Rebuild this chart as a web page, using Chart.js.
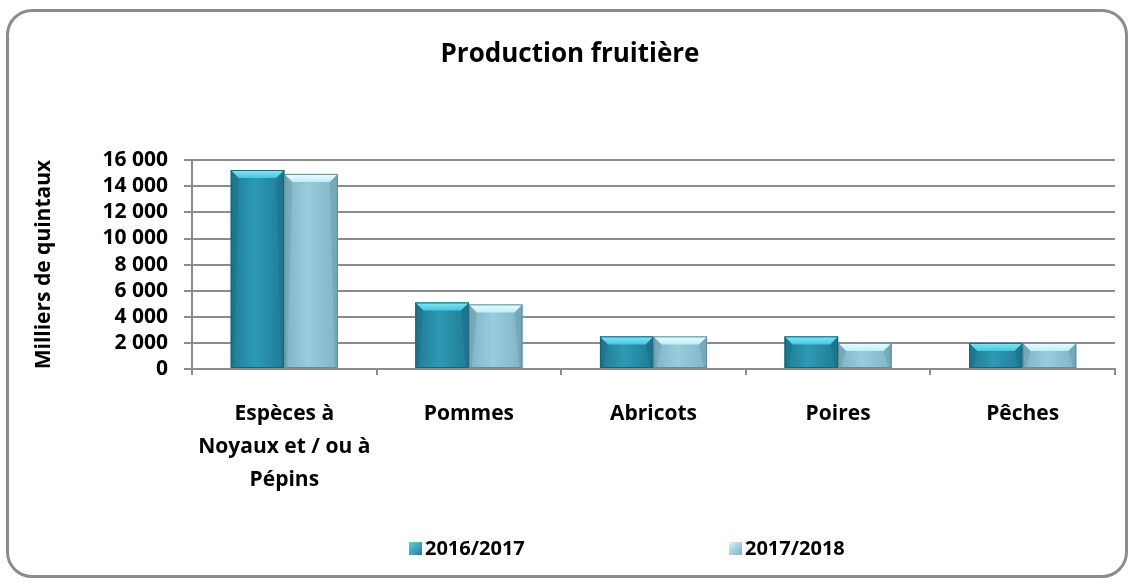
<!DOCTYPE html>
<html>
<head>
<meta charset="utf-8">
<script src="https://cdn.jsdelivr.net/npm/chart.js@4.4.1/dist/chart.umd.min.js"></script>
<style>
  body { margin: 0; background: #fff; }
  #frame {
    position: absolute; left: 6px; top: 9px; width: 1116px; height: 563px;
    border: 3px solid #8c8c8c; border-radius: 26px;
  }
  #wrap { position: absolute; left: 0; top: 0; width: 1135px; height: 583px; }
  .leg {
    position: absolute; top: 535px; font: bold 20px "Open Sans", sans-serif; color: #000;
    line-height: 26px; white-space: nowrap;
  }
  .leg i {
    display: inline-block; width: 13px; height: 13px; margin-right: 3px; vertical-align: 0px;
  }
</style>
</head>
<body>
<div id="frame"></div>
<div id="wrap"><canvas id="barChart" width="1135" height="583"></canvas></div>
<div class="leg" style="left:409px"><i style="background:linear-gradient(135deg,#5fcde4,#1f7f98)"></i>2016/2017</div>
<div class="leg" style="left:729px"><i style="background:linear-gradient(135deg,#d4f4fa,#7bb0c2)"></i>2017/2018</div>
<script>
// données
var categories = [["Espèces à", "Noyaux et / ou à", "Pépins"], "Pommes", "Abricots", "Poires", "Pêches"];
var serie2016 = [15250, 5100, 2500, 2500, 2000];
var serie2017 = [14950, 4950, 2500, 2000, 2000];
var seriesNames = ["2016/2017", "2017/2018"];
var yTicks = [0, 2000, 4000, 6000, 8000, 10000, 12000, 14000, 16000];

// couleurs du relief
var styles = [
  { side: "#207a94", mid: "#2d9ab4", topA: "#86e8f8", topB: "#45c6de", edge: "#1a6276" },
  { side: "#80b4c5", mid: "#98cddc", topA: "#eefdff", topB: "#bdeef6", edge: "#5f8d9c" },
];

function fmt(v) {
  return String(v).replace(/\B(?=(\d{3})+(?!\d))/g, " ");
}

var bevelPlugin = {
  id: "bevel",
  afterDatasetsDraw: function (chart) {
    var ctx = chart.ctx;
    chart.data.datasets.forEach(function (ds, i) {
      var st = styles[i];
      chart.getDatasetMeta(i).data.forEach(function (bar) {
        var w = bar.width, l = bar.x - w / 2, r = bar.x + w / 2, t = bar.y, b = bar.base;
        var e = Math.min(8, (b - t) / 2);
        ctx.save();
        var g = ctx.createLinearGradient(l, 0, r, 0);
        g.addColorStop(0, st.side);
        g.addColorStop(0.45, st.mid);
        g.addColorStop(1, st.side);
        ctx.fillStyle = g;
        ctx.fillRect(l, t, w, b - t);
        // face du dessus
        var gt = ctx.createLinearGradient(0, t, 0, t + e);
        gt.addColorStop(0, st.topA);
        gt.addColorStop(1, st.topB);
        ctx.fillStyle = gt;
        ctx.beginPath();
        ctx.moveTo(l, t);
        ctx.lineTo(r, t);
        ctx.lineTo(r - e, t + e);
        ctx.lineTo(l + e, t + e);
        ctx.closePath();
        ctx.fill();
        // côtés
        ctx.fillStyle = "rgba(0,40,60,0.10)";
        ctx.beginPath();
        ctx.moveTo(l, t);
        ctx.lineTo(l + e, t + e);
        ctx.lineTo(l + 3, b);
        ctx.lineTo(l, b);
        ctx.closePath();
        ctx.fill();
        ctx.beginPath();
        ctx.moveTo(r, t);
        ctx.lineTo(r - e, t + e);
        ctx.lineTo(r - 3, b);
        ctx.lineTo(r, b);
        ctx.closePath();
        ctx.fill();
        ctx.strokeStyle = st.edge;
        ctx.lineWidth = 1;
        ctx.strokeRect(l + 0.5, t + 0.5, w - 1, b - t - 1);
        ctx.restore();
      });
    });
  },
};

var font = "'Open Sans', sans-serif";
var barCtx = document.getElementById("barChart").getContext("2d");
var barChart = new Chart(barCtx, {
  type: "bar",
  data: {
    labels: categories,
    datasets: [
      { label: seriesNames[0], data: serie2016, backgroundColor: styles[0].mid },
      { label: seriesNames[1], data: serie2017, backgroundColor: styles[1].mid },
    ],
  },
  plugins: [bevelPlugin],
  options: {
    responsive: false,
    animation: false,
    layout: { padding: { left: 25, right: 20, top: 10, bottom: 62 } },
    datasets: { bar: { categoryPercentage: 0.58, barPercentage: 1.0 } },
    plugins: {
      legend: { display: false },
      tooltip: { enabled: false },
      title: {
        display: true,
        text: "Production fruitière",
        color: "#000",
        font: { family: font, size: 26, weight: "bold", lineHeight: 1.2 },
        padding: { top: 29, bottom: 90 },
      },
    },
    scales: {
      x: {
        afterFit: function (axis) { axis.height = 152; },
        grid: { drawOnChartArea: false, tickLength: 6, color: "#8c8c8c", lineWidth: 2 },
        border: { color: "#8c8c8c", width: 2 },
        ticks: {
          color: "#000",
          padding: 22,
          maxRotation: 0,
          autoSkip: false,
          font: { family: font, size: 21, weight: "bold", lineHeight: 1.58 },
        },
      },
      y: {
        min: 0,
        max: 16000,
        afterFit: function (axis) { axis.width = 167; },
        afterBuildTicks: function (axis) {
          axis.ticks = yTicks.map(function (v) { return { value: v }; });
        },
        grid: { color: "#8c8c8c", lineWidth: 2, tickLength: 8 },
        border: { color: "#8c8c8c", width: 2 },
        ticks: {
          color: "#000",
          padding: 16,
          autoSkip: false,
          font: { family: font, size: 21, weight: "bold", lineHeight: 1.0 },
          callback: function (v) { return fmt(v); },
        },
        title: {
          display: true,
          text: "Milliers de quintaux",
          color: "#000",
          font: { family: font, size: 21, weight: "bold", lineHeight: 1.2 },
          padding: { top: 6, bottom: 0 },
        },
      },
    },
  },
});
</script>
</body>
</html>
